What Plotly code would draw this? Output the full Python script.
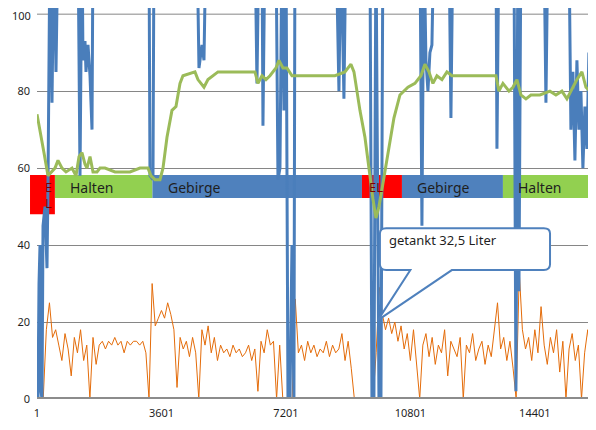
import plotly.graph_objects as go

# orange series, one sample every 90 time steps
orange_x = list(range(1, 16200, 90))
orange_y = [0, 0, 0, 18, 25, 16, 18, 14, 10, 17, 13, 6, 16, 12, 18, 10, 14, 0, 16, 9,
            14, 15, 13, 15, 14, 16, 14, 15, 12, 15, 14, 15, 15, 14, 15, 12, 0, 30, 19, 21,
            23, 21, 25, 22, 18, 3, 16, 13, 15, 11, 16, 12, 0, 18, 14, 19, 12, 16, 10, 14,
            12, 13, 11, 14, 12, 13, 11, 12, 14, 10, 13, 2, 15, 12, 18, 14, 15, 0, 14, 0,
            0, 0, 0, 26, 12, 14, 10, 15, 12, 14, 11, 13, 12, 15, 11, 14, 12, 13, 17, 10,
            15, 8, 0, 0, 0, 0, 0, 0, 0, 12, 29, 22, 18, 21, 17, 20, 15, 19, 13, 17,
            10, 18, 8, 0, 14, 17, 11, 16, 9, 14, 12, 18, 6, 15, 13, 11, 16, 0, 14, 12,
            17, 10, 13, 15, 9, 14, 11, 18, 25, 13, 16, 10, 15, 8, 0, 33, 18, 13, 16, 10,
            18, 12, 24, 14, 9, 16, 12, 18, 7, 15, 0, 13, 17, 10, 14, 0, 12, 18, 10, 15]

blue_x = [1, 30, 59, 88, 117, 146, 175, 232, 290, 319, 377, 435, 493, 550, 608, 1187, 1245, 1302,
          1331, 1389, 1418, 1476, 1534, 1592, 1621, 3240, 3269, 3356, 3385, 4628, 4686, 4773, 4831,
          4889, 6306, 6363, 6421, 6508, 6537, 6595, 6913, 6971, 7029, 7087, 7144, 7202, 7260, 7318,
          7376, 7433, 7462, 8648, 8735, 8793, 8879, 8937, 9631, 9689, 9747, 9805, 9892, 9950, 10007,
          11077, 11135, 11193, 11251, 11309, 11366, 11424, 11482, 11916, 11974, 12032, 13276, 13305,
          13362, 13796, 13854, 13912, 13941, 13999, 14664, 14722, 14780, 15386, 15444, 15502, 15560,
          15618, 15676, 15734, 15791, 15849, 15907, 15965, 16023, 16081, 16139, 16168]
blue_y = [0, 0, 30, 40, 2, 0, 45, 50, 34, 55, 120, 77, 120, 85, 120, 120, 58, 120,
          88, 93, 85, 92, 84, 70, 120, 120, 58, 57, 120, 120, 86, 92, 88,
          120, 120, 82, 120, 120, 71, 120, 120, 57, 60, 120, 75, 120, 0, 0,
          40, 0, 120, 120, 80, 120, 78, 120, 120, 0, 0, 120, 0, 0, 120,
          120, 45, 120, 88, 80, 90, 92, 120, 120, 73, 120, 120, 65,
          120, 120, 2, 120, 28, 120, 120, 77, 120, 120, 70, 85, 62,
          88, 70, 80, 60, 76, 65, 90, 78, 85, 75, 80]

green_x = [1, 88, 203, 319, 435, 522, 608, 724, 840, 1013, 1129, 1216, 1302, 1389, 1447, 1534,
           1621, 1736, 1823, 1968, 2257, 2691, 2980, 3211, 3298, 3414, 3558, 3645, 3761, 3905,
           4021, 4137, 4223, 4570, 4657, 4744, 4831, 4946, 5091, 5236, 6306, 6392, 6508, 6624,
           6739, 6913, 7000, 7116, 7231, 7376, 7491, 8619, 8908, 9082, 9169, 9342, 9487, 9632,
           9718, 9805, 9892, 10007, 10152, 10325, 10499, 10730, 10933, 11106, 11222, 11338,
           11453, 11569, 11714, 11858, 12003, 12234, 12524, 12813, 13276, 13362, 13478, 13652,
           13767, 13883, 13999, 14143, 14288, 14548, 14837, 15011, 15184, 15329, 15444, 15618,
           15763, 15879, 15994, 16168]
green_y = [74, 70, 64, 58, 59, 60, 62, 60, 59, 60, 58, 63, 64, 61, 60, 63,
           59, 59, 60, 60, 59, 59, 60, 60, 58, 57, 57, 60, 68, 75,
           76, 82, 84, 85, 83, 82, 81, 83, 84, 85, 85, 82, 84, 83,
           84, 86, 88, 86, 86, 84, 84, 84, 85, 87, 85, 75, 68, 57,
           52, 47, 50, 56, 64, 73, 79, 81, 82, 84, 87, 85,
           82, 84, 83, 85, 84, 84, 84, 84, 84, 80, 82, 80,
           81, 83, 79, 78, 79, 79, 80, 79, 80, 78, 80, 83,
           85, 81, 80, 79]

# phases: (start, end, label, colour)
phases = [(522, 3340, "Halten", "#92D050"),
          (3340, 9400, "Gebirge", "#4F81BD"),
          (9400, 10557, "EL", "#FF0000"),
          (10557, 13478, "Gebirge", "#4F81BD"),
          (13478, 16170, "Halten", "#92D050")]

xticks = [1, 3601, 7201, 10801, 14401]
yticks = [0, 20, 40, 60, 80]

fig = go.Figure()
fig.add_trace(go.Scatter(x=orange_x, y=orange_y, mode='lines', line=dict(color='#E46C0A', width=1)))
fig.add_trace(go.Scatter(x=blue_x, y=blue_y, mode='lines', line=dict(color='#4A7EBB', width=3)))
fig.add_trace(go.Scatter(x=green_x, y=green_y, mode='lines', line=dict(color='#9BBB59', width=3)))

# first red box sticks out left of the plot area
fig.add_shape(type='rect', xref='paper', x0=-0.0125, x1=0.032, y0=48, y1=58.2,
              fillcolor='#FF0000', line_width=0, layer='between')
fig.add_annotation(xref='paper', x=0.01, y=53, text="E<br>L", showarrow=False,
                   font=dict(size=12, color='#7F0000'))

for x0, x1, label, col in phases:
    fig.add_shape(type='rect', x0=x0, x1=x1, y0=52.2, y1=58.2, fillcolor=col, line_width=0,
                  layer='between')
    if label == "EL":
        fig.add_annotation(x=x0 + 150, y=55.2, text=label, showarrow=False, xanchor='left',
                           font=dict(size=13, color='#7F0000'))
    else:
        fig.add_annotation(x=x0 + 380, y=55.0, text=label, showarrow=False, xanchor='left',
                           font=dict(size=14, color='#1F1F1F'))

# callout bubble
fig.add_shape(type='path', layer='above', fillcolor='white', line=dict(color='#4F81BD', width=2),
              path='M 10100,44.4 L 14660,44.4 Q 14840,44.4 14840,43 L 14840,35 Q 14840,33.5 14660,33.5 '
                   'L 12000,33.5 L 9862,20.5 L 10800,33.5 L 10100,33.5 Q 9920,33.5 9920,35 '
                   'L 9920,43 Q 9920,44.4 10100,44.4 Z')
fig.add_annotation(x=10120, y=41.2, text="getankt 32,5 Liter", showarrow=False, xanchor='left',
                   font=dict(size=13, color='#1F1F1F'))

# top tick label sits too close to the edge for the axis to draw it
fig.add_annotation(xref='paper', x=0, y=100, text="100", showarrow=False, xanchor='right',
                   xshift=-4, yshift=-1, font=dict(size=11, color='#1F1F1F'))

fig.update_layout(
    width=588, height=422,
    margin=dict(l=29, r=0, t=0, b=31),
    showlegend=False,
    plot_bgcolor='white', paper_bgcolor='white',
    font=dict(family='Noto Sans', size=11, color='#1F1F1F'),
    xaxis=dict(range=[1, 16170], tickvals=xticks, ticktext=[str(t) for t in xticks],
               showgrid=False, zeroline=False, showline=False, ticks='', automargin=False,
               ticklabelstandoff=6),
    yaxis=dict(range=[0, 101.6], tickvals=yticks, showgrid=True,
               gridcolor='#868686', gridwidth=1, zeroline=False, ticks='', automargin=False,
               ticklabelstandoff=6),
)
fig.add_hline(y=100, line=dict(color='#868686', width=1), layer='below')
fig.add_hline(y=0, line=dict(color='#8C8C8C', width=4))
fig.write_html("out.html")
